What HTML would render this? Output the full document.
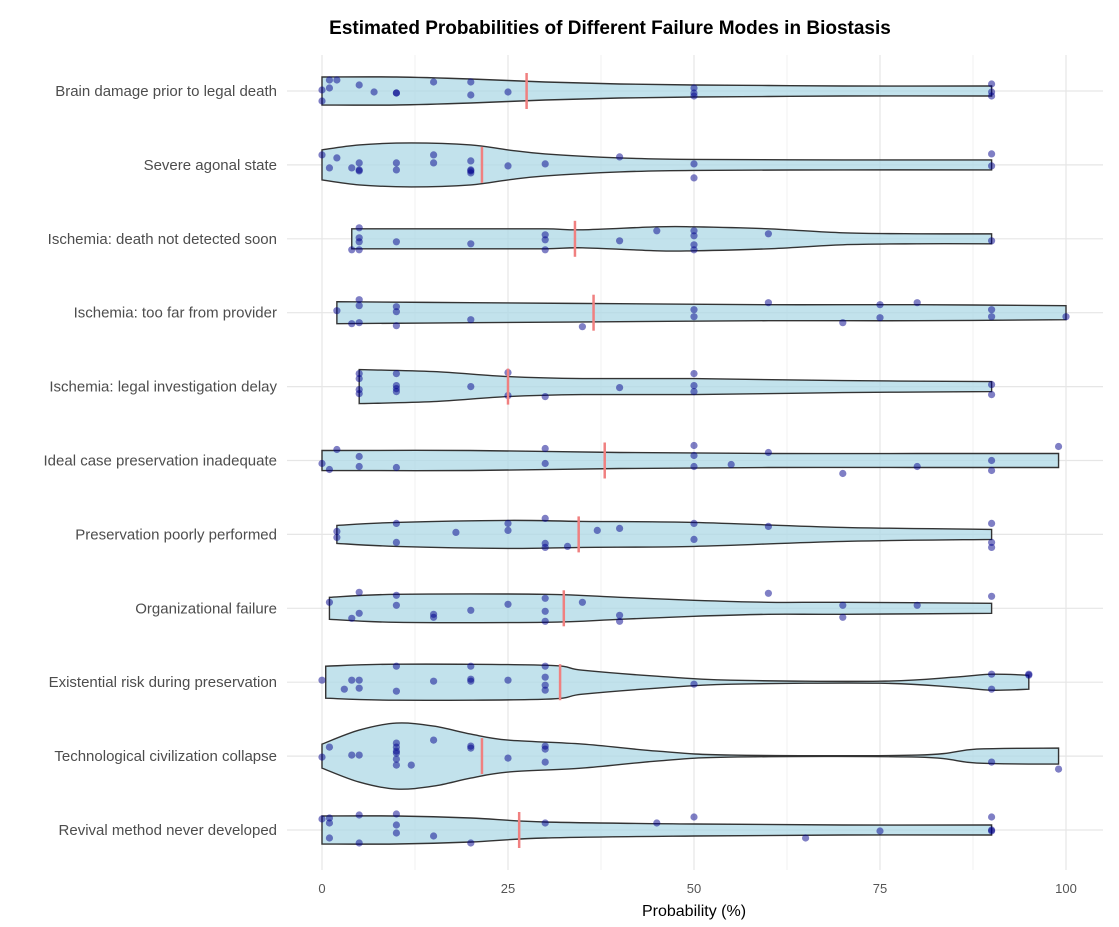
<!DOCTYPE html>
<html><head><meta charset="utf-8"><style>
body{margin:0;background:#fff;}
svg{display:block;font-family:"Liberation Sans",Arial,sans-serif;}
</style></head><body>
<svg id="chart" width="1119" height="927" viewBox="0 0 1119 927"></svg>
<script>
const categories=["Brain damage prior to legal death","Severe agonal state","Ischemia: death not detected soon","Ischemia: too far from provider","Ischemia: legal investigation delay","Ideal case preservation inadequate","Preservation poorly performed","Organizational failure","Existential risk during preservation","Technological civilization collapse","Revival method never developed"];
const xTicks=[0,25,50,75,100];
const medians=[27.5,21.5,34,36.5,25,38,34.5,32.5,32,21.5,26.5];
// density knots: [probability, relative half-width]
const densities=[
[[0,14],[10,14],[20,12],[30,9],[40,7],[50,6],[60,5.5],[70,5],[90,5]],
[[0,15],[5,20],[12,22],[20,20],[25,15],[30,11],[40,7],[50,5.5],[70,5],[90,5]],
[[4,10],[20,10],[30,10],[35,9],[45,12],[50,12],[60,10],[70,6],[80,5],[90,5]],
[[2,11],[20,10],[40,9],[60,8],[80,8],[100,7]],
[[5,17],[15,15],[25,10],[35,8],[50,8],[70,6],[90,5]],
[[0,10],[20,10],[40,8],[60,7],[80,7],[99,7]],
[[2,9],[10,12],[25,14],[35,13],[50,12],[70,7],[90,5]],
[[1,11],[10,14],[30,14],[40,11],[50,8],[60,6],[70,6],[90,5]],
[[0.5,16],[10,18],[30,17],[35,12],[45,6],[55,2],[75,1],[85,5],[90,8],[95,7]],
[[0,12],[5,26],[10,33],[15,30],[20,22],[25,16],[35,12],[45,5],[55,1],[80,1],[88,7],[99,8]],
[[0,14],[10,14],[20,12],[30,8],[50,6],[70,5],[90,5]]
];
// responses per category: [probability, jitter]
const responses=[
[[0,-1],[0,10],[1,-11],[2,-11],[1,-3],[5,-6],[7,1],[10,2],[10,2],[15,-9],[20,-9],[20,4],[25,1],[50,-3],[50,2],[50,5],[90,-7],[90,5],[90,1]],
[[0,-10],[1,3],[2,-7],[5,-2],[5,5],[4,3],[5,6],[10,-2],[10,5],[15,-10],[15,-2],[20,-4],[20,5],[20,8],[20,6],[25,1],[30,-1],[40,-8],[50,-1],[50,13],[90,-11],[90,1]],
[[5,-11],[5,-1],[5,3],[4,11],[5,11],[10,3],[20,5],[30,-4],[30,1],[30,11],[40,2],[45,-8],[50,-8],[50,-3],[50,6],[50,11],[60,-5],[90,2]],
[[2,-2],[5,-13],[5,-7],[5,10],[4,11],[10,-6],[10,-1],[10,13],[20,7],[35,14],[50,-3],[50,4],[60,-10],[70,10],[75,-8],[75,5],[80,-10],[90,-3],[90,4],[100,4]],
[[5,-13],[5,-8],[5,3],[5,7],[10,-13],[10,-1],[10,2],[10,5],[20,0],[25,-14],[25,9],[30,10],[40,1],[50,-13],[50,-1],[50,5],[90,-2],[90,8]],
[[2,-11],[0,3],[1,9],[5,-4],[5,6],[10,7],[30,-12],[30,3],[50,-15],[50,-5],[50,6],[55,4],[60,-8],[70,13],[80,6],[90,0],[90,10],[99,-14]],
[[2,-3],[2,3],[10,-11],[10,8],[18,-2],[25,-11],[25,-4],[30,-16],[30,9],[30,13],[33,12],[37,-4],[40,-6],[50,-11],[50,5],[60,-8],[90,-11],[90,8],[90,13]],
[[1,-6],[5,-16],[5,5],[4,10],[10,-13],[10,-3],[15,6],[15,9],[20,2],[25,-4],[30,-10],[30,3],[30,13],[35,-6],[40,7],[40,13],[60,-15],[70,-3],[70,9],[80,-3],[90,-12]],
[[0,-2],[4,-2],[3,7],[5,-2],[5,6],[10,-16],[10,9],[15,-1],[20,-16],[20,-3],[20,-1],[25,-2],[30,-16],[30,-5],[30,3],[30,8],[50,2],[90,-8],[90,7],[95,-8],[95,-7]],
[[0,1],[1,-9],[4,-1],[5,-1],[10,-13],[10,-9],[10,-5],[10,-3],[10,3],[10,9],[12,9],[15,-16],[20,-10],[20,-8],[25,2],[30,-10],[30,-7],[30,6],[90,6],[99,13]],
[[0,-11],[1,-12],[1,-7],[1,8],[5,-15],[5,13],[10,-16],[10,-5],[10,3],[15,6],[20,13],[30,-7],[45,-7],[50,-13],[65,8],[75,1],[90,-13],[90,0],[90,1]]
];
const NS="http://www.w3.org/2000/svg";
const svg=document.getElementById('chart');
const X0=322,X1=1066,PL=287,PR=1103;
const xs=v=>X0+(X1-X0)*v/100;
const ys=i=>91+i*73.9;
function mk(t,a,p){const e=document.createElementNS(NS,t);for(const k in a)e.setAttribute(k,a[k]);(p||svg).appendChild(e);return e;}
for(let v=12.5;v<100;v+=25){const g=mk('line',{x1:xs(v),x2:xs(v),y1:55,y2:870,stroke:'#f2f2f2','stroke-width':1});

}
xTicks.forEach(v=>{const g=mk('line',{x1:xs(v),x2:xs(v),y1:55,y2:870,stroke:'#e6e6e6','stroke-width':1.2});


const t=mk('text',{x:xs(v),y:893,'text-anchor':'middle','font-size':13,fill:'#555'});t.textContent=v;

});
categories.forEach((c,i)=>{const g=mk('line',{x1:PL,x2:PR,y1:ys(i),y2:ys(i),stroke:'#e6e6e6','stroke-width':1.2});


const t=mk('text',{x:277,y:ys(i)+5,'text-anchor':'end','font-size':15,fill:'#4d4d4d'});t.textContent=c;

});
function smooth(pts){let d='';for(let k=0;k<pts.length-1;k++){const p0=pts[k-1]||pts[k],p1=pts[k],p2=pts[k+1],p3=pts[k+2]||p2;
const c1=[p1[0]+(p2[0]-p0[0])/6,p1[1]+(p2[1]-p0[1])/6],c2=[p2[0]-(p3[0]-p1[0])/6,p2[1]-(p3[1]-p1[1])/6];
d+=` C${c1[0]},${c1[1]} ${c2[0]},${c2[1]} ${p2[0]},${p2[1]}`;}return d;}
densities.forEach((kn,i)=>{const cy=ys(i);
const top=kn.map(k=>[xs(k[0]),cy-k[1]]);const bot=kn.slice().reverse().map(k=>[xs(k[0]),cy+k[1]]);
const d=`M${top[0][0]},${top[0][1]}`+smooth(top)+` L${bot[0][0]},${bot[0][1]}`+smooth(bot)+'Z';
const p=mk('path',{d:d,fill:'#add8e6','fill-opacity':0.75,stroke:'#333','stroke-width':1.4});

});
responses.forEach((pts,i)=>{pts.forEach(pt=>{const c=mk('circle',{cx:xs(pt[0]),cy:ys(i)+pt[1],r:3.6,fill:'#00008b','fill-opacity':0.5});

});});
medians.forEach((m,i)=>{const l=mk('line',{x1:xs(m),x2:xs(m),y1:ys(i)-18,y2:ys(i)+18,stroke:'#f08080','stroke-width':2.5});

});
const ti=mk('text',{x:610,y:34,'text-anchor':'middle','font-size':19,'font-weight':'bold',fill:'#000'});ti.textContent='Estimated Probabilities of Different Failure Modes in Biostasis';


const xl=mk('text',{x:694,y:916,'text-anchor':'middle','font-size':16,fill:'#000'});xl.textContent='Probability (%)';


</script>
</body></html>
